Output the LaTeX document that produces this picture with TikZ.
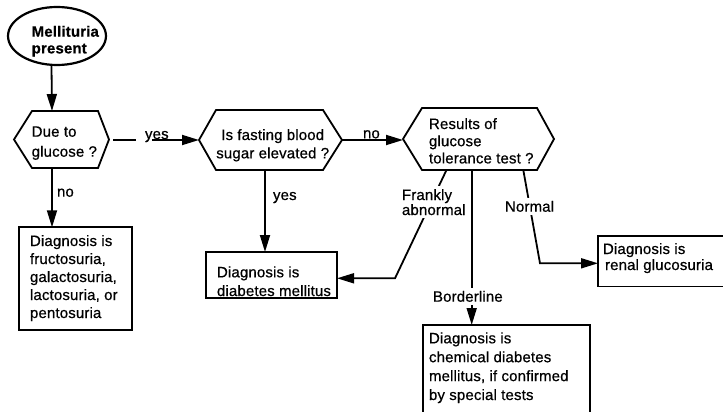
\documentclass[tikz,border=0pt]{standalone}
\usepackage{fontspec}
\setmainfont{Liberation Sans}[LetterSpace=1, FakeBold=0.6]
\usetikzlibrary{arrows.meta,shapes.geometric,calc}

% font size with a chosen line spacing
\newcommand\txtsize[1]{\fontsize{15}{#1}\selectfont}
% fixes the height of a first line, so north anchors sit 11pt above its baseline
\newcommand\topline{\rule{0pt}{11pt}}

\tikzset{
  ink/.style={line width=1.8pt, line join=miter},
  arr/.style={ink, -{Triangle[length=17pt,width=10pt]}},
  frame/.style={draw, ink, rectangle, inner sep=0pt, outer sep=0pt},
  hexbox/.style={rectangle, inner sep=0pt, outer sep=0pt},
  txt/.style={inner sep=0pt, outer sep=0pt, align=left, anchor=north west},
  lbl/.style={inner sep=0pt, outer sep=0pt, anchor=base west, font=\txtsize{16}},
  mask/.style={fill=white, inner sep=3pt},
}

% hexagon outline inside the box of a node: #2 left inset, #3 right inset
\newcommand\hexoutline[3]{%
  \draw[ink] (#1.west) -- ([xshift=#2]#1.north west) -- ([xshift=-#3]#1.north east)
    -- (#1.east) -- ([xshift=-#3]#1.south east) -- ([xshift=#2]#1.south west) -- cycle;}

\begin{document}
\begin{tikzpicture}[x=1pt,y=1pt]
\useasboundingbox (0,0) rectangle (723,-412);
\clip (0,0) rectangle (723,-412);

% ---- shapes ----
\node[draw, ink, line width=2.2pt, ellipse, minimum width=98, minimum height=58, inner sep=0pt] (start) at (57,-36) {};

\node[hexbox, minimum width=95, minimum height=57] (h1) at (61.5,-139.5) {};
\node[hexbox, minimum width=143, minimum height=60] (h2) at (270.5,-140) {};
\node[hexbox, minimum width=151, minimum height=62] (h3) at (478.5,-139) {};
\hexoutline{h1}{18}{11}
\hexoutline{h2}{17}{19}
\hexoutline{h3}{19}{17}

\node[frame, minimum width=113, minimum height=102.7] (b1) at (75.5,-278.65) {};
\node[frame, minimum width=131, minimum height=46.3] (b2) at (271.5,-275.15) {};
\node[frame, minimum width=167, minimum height=95] (b3) at (506.5,-372.5) {};
\node[frame, minimum width=128, minimum height=50.5] (b4) at (662,-261.25) {};

% ---- texts ----
\node[txt, font=\txtsize{16.7}\bfseries] (startt) at (31.7,-25.7) {\topline Mellituria\\present};
\node[txt, font=\txtsize{20}] (h1t) at (31.7,-125.7) {\topline Due to\\glucose ?};
\node[txt, align=center, anchor=north, font=\txtsize{18.3}] (h2t) at (272.7,-129) {\topline Is fasting blood\\sugar elevated ?};
\node[txt, font=\txtsize{17.2}] (h3t) at (429,-118) {\topline Results of\\glucose\\tolerance test ?};
\node[txt, font=\txtsize{18}] (b1t) at (30,-235) {\topline Diagnosis is\\fructosuria,\\galactosuria,\\lactosuria, or\\pentosuria};
\node[txt, font=\txtsize{18.7}] (b2t) at (217,-266.3) {\topline Diagnosis is\\diabetes mellitus};
\node[txt, font=\txtsize{18.9}] (b3t) at (429,-332.3) {\topline Diagnosis is\\chemical diabetes\\mellitus, if confirmed\\by special tests};
\node[txt, font=\txtsize{16}] (b4t) at (603,-243) {\topline Diagnosis is\\\hspace*{2pt}renal glucosuria};

% ---- connectors ----
\coordinate (fk) at (395,-278.3);
\coordinate (nm) at (540,-263.3);

\draw[arr] ([xshift=-5.5]start.south) -- ([xshift=-9.5]h1.north);
\draw[ink] ([xshift=4]h1.east |- h2.west) -- ++(23,0);
\draw[arr] ([xshift=43]h1.east |- h2.west) -- (h2.west);
\draw[arr] (h2.east) -- (h2.east -| h3.west);
\draw[arr] ([xshift=-9.5]h1.south) -- ([xshift=-9.5]h1.south |- b1.north);
\draw[arr] ([xshift=-5.5]h2.south) -- ([xshift=-5.5]h2.south |- b2.north);
\draw[arr] ([xshift=-32]h3.south) -- (fk) -- (fk -| b2.east);
\draw[arr] ([xshift=-6.8]h3.south) -- ([xshift=-6.8]h3.south |- b3.north);
\draw[arr] ([xshift=44.8]h3.south) -- (nm) -- (nm -| b4.west);

% ---- connector labels ----
\node[lbl] (lyes1) at (145,-139) {yes};
\node[lbl] (lno1) at (363,-138.3) {no};
\node[lbl] (lno2) at (57,-196.7) {no};
\node[lbl] (lyes2) at (273,-200) {yes};
\node[txt, mask, font=\txtsize{15}] (lfrank) at (399,-186) {\topline Frankly\\abnormal};
\node[lbl, mask] (lnorm) at (502,-211.7) {Normal};
\node[lbl, mask] (lbord) at (430,-301.7) {Borderline};
\end{tikzpicture}
\end{document}
